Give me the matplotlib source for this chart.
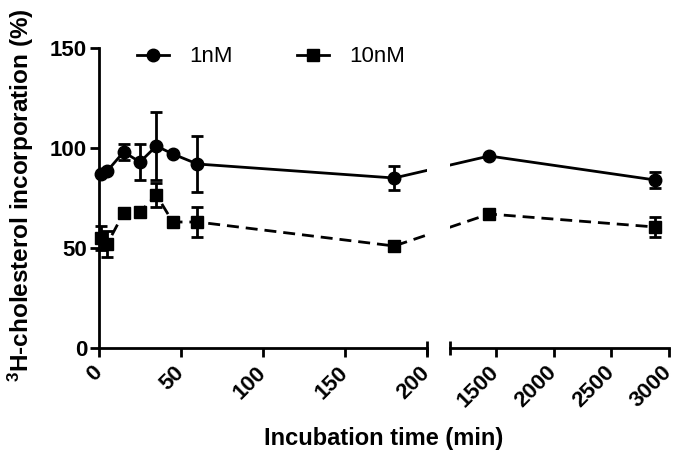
import matplotlib
matplotlib.use("Agg")
import matplotlib.pyplot as plt
from matplotlib.lines import Line2D
import numpy as np

# values
time_min = [1, 5, 15, 25, 35, 45, 60, 180, 1440, 2880]
nm1 = [87, 88.5, 98, 93, 101, 97, 92, 85, 96, 84]
nm1_err = [0, 0, 4, 9, 17, 0, 14, 6, 0, 4]
nm10 = [55, 52, 67.5, 68, 76.5, 63, 63, 51, 67, 60.5]
nm10_err = [6, 6.5, 0, 0, 6, 0, 7.5, 0, 0, 5]

left_ticks = [0, 50, 100, 150, 200]
right_ticks = [1500, 2000, 2500, 3000]
y_ticks = [0, 50, 100, 150]

plt.rcParams['font.family'] = ['Liberation Sans', 'DejaVu Sans']
plt.rcParams['mathtext.fontset'] = 'custom'
plt.rcParams['mathtext.rm'] = 'Liberation Sans:bold'
plt.rcParams['mathtext.default'] = 'rm'

W, H = 678, 458
fig = plt.figure(figsize=(W / 100, H / 100), dpi=100)

# pixel layout of the two panels of the broken x axis
bottom, top = 348, 48
axL = fig.add_axes([99 / W, (H - bottom) / H, 328 / W, (bottom - top) / H])
axR = fig.add_axes([450 / W, (H - bottom) / H, 219 / W, (bottom - top) / H])

# shared piecewise scale so lines crossing the break stay straight on screen
px_per_unit = 328 / 200
gap = 23 / px_per_unit
slope = (219 / px_per_unit) / 1900
bx = np.array([-1e4, 0, 200, 1100, 3000, 1e5])
by = np.array([-1e4, 0, 200, 200 + gap, 200 + gap + 1900 * slope,
               200 + gap + 1900 * slope + (1e5 - 3000) * slope])


def fwd(x):
    return np.interp(x, bx, by)


def inv(y):
    return np.interp(y, by, bx)


lw = 2.0
series = [
    (nm1, nm1_err, 'o', 9, '-'),
    (nm10, nm10_err, 's', 8, (0, (4.3, 2.5))),
]

for ax, (lo, hi) in [(axL, (0, 200)), (axR, (1100, 3000))]:
    ax.set_xscale('function', functions=(fwd, inv))
    ax.set_xlim(lo, hi)
    ax.set_ylim(0, 150)
    t = np.array(time_min)
    inside = (t >= lo) & (t <= hi)
    for vals, errs, mk, ms, ls in series:
        v = np.array(vals)
        e = np.array(errs)
        ax.plot(t, v, color='k', lw=lw, ls=ls, clip_on=True, zorder=2)
        ax.errorbar(t[inside], v[inside], yerr=e[inside], fmt=mk, ms=ms,
                    color='k', ecolor='k', elinewidth=2, capsize=4.3,
                    capthick=2, clip_on=False, zorder=3)
    for s in ['top', 'right']:
        ax.spines[s].set_visible(False)
    for s in ax.spines.values():
        s.set_linewidth(2)
    ax.tick_params(direction='out', length=6.5, width=2, labelsize=16)
    ax.tick_params(axis='x', pad=9)
    ax.tick_params(axis='y', pad=2)

for ax, ticks in [(axL, left_ticks), (axR, right_ticks)]:
    ax.set_xticks(ticks)
    ax.set_xticklabels([str(v) for v in ticks], rotation=45, ha='right',
                       va='center', rotation_mode='anchor',
                       fontweight='bold')

axL.set_yticks(y_ticks)
axL.set_yticklabels([str(v) for v in y_ticks], fontweight='bold')
axR.spines['left'].set_visible(False)
axR.set_yticks([])

# end caps at the break
axL.plot([1], [0], marker='|', ms=10, mew=2, color='k',
         transform=axL.transAxes, clip_on=False)
axR.plot([0], [0], marker='|', ms=10, mew=2, color='k',
         transform=axR.transAxes, clip_on=False)

fig.text(384 / W, 1 - 438 / H, 'Incubation time (min)', ha='center',
         va='center', fontsize=17, fontweight='bold')
fig.text(21 / W, 1 - 195 / H, r'$^{3}$H-cholesterol incorporation (%)',
         ha='center', va='center', rotation=90, fontsize=17.5,
         fontweight='bold')

handles = [
    Line2D([], [], color='k', lw=lw, marker='o', ms=9),
    Line2D([], [], color='k', lw=lw, marker='s', ms=8),
]
fig.legend(handles, ['1nM', '10nM'], ncol=2, loc='center left',
           bbox_to_anchor=(137 / W, 1 - 57 / H), frameon=False, fontsize=16,
           handlelength=1.45, handletextpad=0.9, columnspacing=2.9,
           borderpad=0, borderaxespad=0)

fig.savefig('out.png', dpi=100)
